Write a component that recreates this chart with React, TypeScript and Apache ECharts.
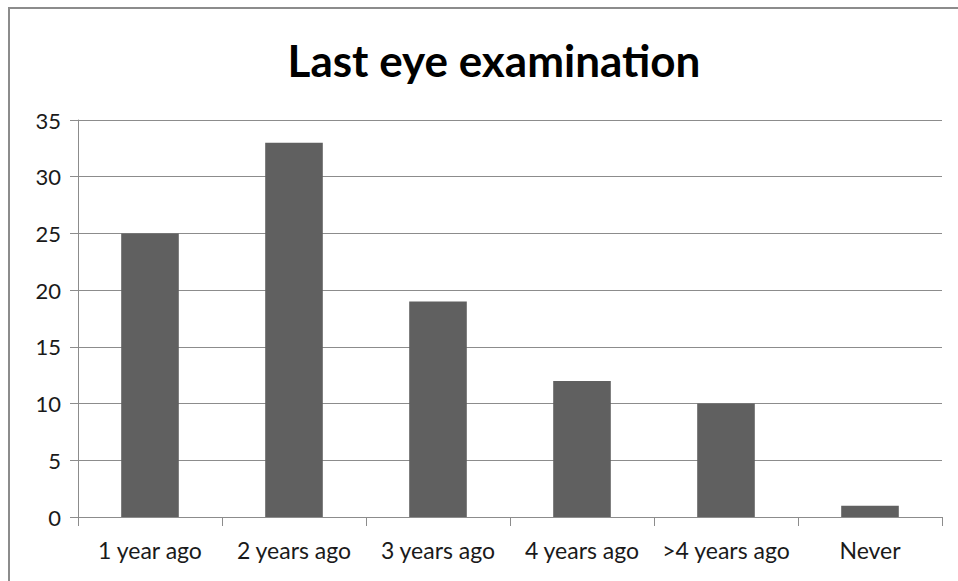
import React, { useEffect, useRef } from "react";
import * as echarts from "echarts";

const categories = ["1 year ago", "2 years ago", "3 years ago", "4 years ago", ">4 years ago", "Never"];
const values = [25, 33, 19, 12, 10, 1];
const titleText = "Last eye examination";

export default function App() {
  const ref = useRef<HTMLDivElement>(null);
  useEffect(() => {
    if (!ref.current) return;
    const chart = echarts.init(ref.current, null, { renderer: "svg" });
    const font = "Lato, 'Open Sans', sans-serif";
    chart.setOption({
      animation: false,
      backgroundColor: "#ffffff",
      title: {
        text: titleText,
        left: 489,
        textAlign: "center",
        top: 33,
        textStyle: { fontFamily: font, fontWeight: "bold", fontSize: 44, color: "#000000" },
      },
      graphic: [
        {
          type: "rect",
          shape: { x: 9, y: 8, width: 1000, height: 640 },
          style: { fill: "none", stroke: "#8c8c8c", lineWidth: 2 },
          silent: true,
        },
      ],
      grid: { left: 78, right: 16, top: 120, bottom: 64, containLabel: false },
      xAxis: {
        type: "category",
        data: categories,
        axisLine: { show: true, lineStyle: { color: "#8c8c8c", width: 1 } },
        axisTick: { show: true, length: 9, lineStyle: { color: "#8c8c8c" } },
        axisLabel: { fontFamily: font, fontSize: 23, color: "#1a1a1a", margin: 21, interval: 0 },
        splitLine: { show: false },
      },
      yAxis: {
        type: "value",
        min: 0,
        max: 35,
        interval: 5,
        axisLine: { show: true, lineStyle: { color: "#8c8c8c", width: 1 } },
        axisTick: { show: true, length: 8, lineStyle: { color: "#8c8c8c" } },
        axisLabel: { fontFamily: font, fontSize: 22, color: "#1a1a1a", margin: 17 },
        splitLine: { show: true, lineStyle: { color: "#8c8c8c", width: 1 } },
      },
      series: [
        {
          type: "bar",
          data: values,
          barWidth: "40%",
          itemStyle: { color: "#606060" },
        },
      ],
    });
    return () => chart.dispose();
  }, []);
  return (
    <div
      ref={ref}
      style={{ position: "absolute", left: 0, top: 0, width: 958, height: 581 }}
    />
  );
}
